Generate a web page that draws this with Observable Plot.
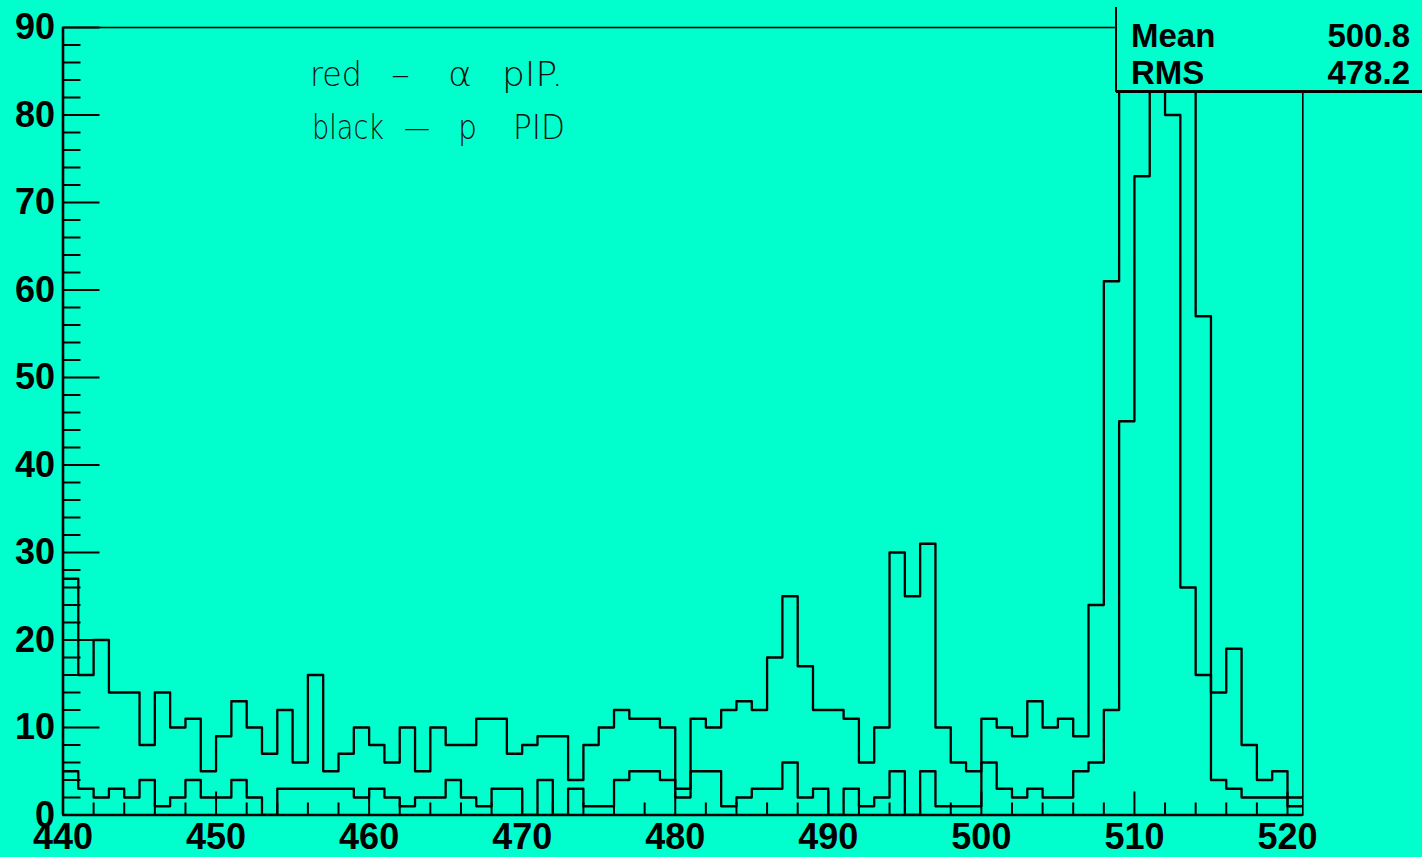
<!DOCTYPE html>
<html><head><meta charset="utf-8">
<script src="https://cdn.jsdelivr.net/npm/d3@7"></script>
<script src="https://cdn.jsdelivr.net/npm/@observablehq/plot@0.6"></script>
<style>
html,body{margin:0;padding:0;background:#00ffcc;overflow:hidden;}
#chart svg{display:block;}
</style></head><body><div id="chart"></div>
<script>
// ---- data ----
const binStarts = [
  440,441,442,443,444,445,446,447,448,449,
  450,451,452,453,454,455,456,457,458,459,
  460,461,462,463,464,465,466,467,468,469,
  470,471,472,473,474,475,476,477,478,479,
  480,481,482,483,484,485,486,487,488,489,
  490,491,492,493,494,495,496,497,498,499,
  500,501,502,503,504,505,506,507,508,509,
  510,511,512,513,514,515,516,517,518,519,
  520];
const binWidth = 1;
// upper histogram (higher background)
const histA = [
  27,16,20,14,14,8,14,10,11,5,
  9,13,10,7,12,6,16,5,7,10,
  8,6,10,5,10,8,8,11,11,7,
  8,9,9,4,8,10,12,11,11,10,
  3,11,10,12,13,12,18,25,17,12,
  12,11,6,10,30,25,31,10,6,5,
  11,10,9,13,10,11,9,24,61,98,
  115,100,80,26,16,4,3,2,2,2,
  2];
// lower histogram (low background, later peak)
const histB = [
  5,3,2,3,2,4,1,2,4,2,
  2,4,2,0,3,3,3,3,3,2,
  3,2,1,2,2,4,2,1,3,3,
  0,4,0,3,1,1,4,5,5,4,
  2,5,5,1,2,3,3,6,2,3,
  0,3,1,2,5,0,5,1,1,1,
  6,3,2,3,2,2,5,6,12,45,
  73,105,120,95,57,14,19,8,4,5,
  1];
const xTickLabels = [440,450,460,470,480,490,500,510,520];
const xMinorTicks = [442,444,446,448,452,454,456,458,462,464,466,468,472,474,476,478,482,484,486,488,492,494,496,498,502,504,506,508,512,514,516,518];
const yTickLabels = [0,10,20,30,40,50,60,70,80,90];
const yMinorTicks = [2,4,6,8,12,14,16,18,22,24,26,28,32,34,36,38,42,44,46,48,52,54,56,58,62,64,66,68,72,74,76,78,82,84,86,88];
const xDomain = [440, 521];
const yDomain = [0, 90];
const statLabels = ["Mean", "RMS"];
const statValues = ["500.8", "478.2"];
const noteLine1 = ["red", "–", "α", "pIP."];
const noteLine2 = ["black", "—", "p", "PID"];

// ---- build step tables ----
function steps(counts) {
  const pts = binStarts.map((b, i) => ({x: b, y: counts[i]}));
  pts.push({x: binStarts[binStarts.length - 1] + binWidth, y: counts[counts.length - 1]});
  return pts;
}

const BG = "#00ffcc";
const W = 1422, H = 857;
const mL = 62.5, mR = 119.7, mT = 27, mB = 42.5;
const innerW = W - mL - mR, innerH = H - mT - mB;

const plot = Plot.plot({
  width: W, height: H,
  marginLeft: mL, marginRight: mR, marginTop: mT, marginBottom: mB,
  x: {domain: xDomain},
  y: {domain: yDomain},
  style: {background: "transparent", fontFamily: "'Liberation Sans', Arial, Helvetica, sans-serif", fontWeight: "bold", color: "black", overflow: "visible"},
  marks: [
    Plot.lineY(steps(histA), {x: "x", y: "y", curve: "step-after", stroke: "black", strokeWidth: 2.3, clip: true}),
    Plot.lineY(steps(histB), {x: "x", y: "y", curve: "step-after", stroke: "black", strokeWidth: 2.3, clip: true}),
    Plot.frame({stroke: "black", strokeWidth: 1.6}),
    Plot.ruleX([xDomain[0]], {stroke: "black", strokeWidth: 2.6}),
    Plot.ruleY([yDomain[0]], {stroke: "black", strokeWidth: 2.6}),
    Plot.ruleX(xMinorTicks, {stroke: "black", strokeWidth: 2, insetTop: innerH - 12}),
    Plot.ruleX(xTickLabels, {stroke: "black", strokeWidth: 2, insetTop: innerH - 23}),
    Plot.ruleY(yMinorTicks, {stroke: "black", strokeWidth: 2, insetRight: innerW - 18}),
    Plot.ruleY(yTickLabels, {stroke: "black", strokeWidth: 2, insetRight: innerW - 37}),
    Plot.axisX(xTickLabels, {tickSize: 0, tickPadding: 8, fontSize: 36, tickFormat: d => String(d), label: null}),
    Plot.axisY(yTickLabels, {tickSize: 0, tickPadding: 8, fontSize: 36, tickFormat: d => String(d), label: null})
  ]
});
document.getElementById("chart").appendChild(plot);

// ---- stats box ----
const svg = d3.select(plot);
const box = svg.append("g");
box.append("rect").attr("x", 1116).attr("y", -5).attr("width", 320).attr("height", 97)
  .attr("fill", BG).attr("stroke", "none");
box.append("line").attr("x1", 1116).attr("x2", 1116).attr("y1", 7).attr("y2", 92)
  .attr("stroke", "black").attr("stroke-width", 2);
box.append("line").attr("x1", 1116).attr("x2", 1422).attr("y1", 91.5).attr("y2", 91.5)
  .attr("stroke", "black").attr("stroke-width", 3.2);
const statY = [46.5, 83.5];
statLabels.forEach((s, i) => {
  box.append("text").attr("x", 1131).attr("y", statY[i]).text(s)
    .attr("text-anchor", "start")
    .attr("font-size", 33).attr("font-weight", "bold").attr("fill", "black")
    .attr("font-family", "'Liberation Sans', Arial, sans-serif");
  box.append("text").attr("x", 1410).attr("y", statY[i]).attr("text-anchor", "end").text(statValues[i])
    .attr("font-size", 33).attr("font-weight", "bold").attr("fill", "black")
    .attr("font-family", "'Liberation Sans', Arial, sans-serif");
});

// ---- handwritten note ----
const note = svg.append("g").attr("font-family", "'DejaVu Sans', sans-serif")
  .attr("font-weight", 200).attr("fill", "#111").attr("font-size", 34)
  .attr("text-anchor", "start");
const line1X = [[310, 52], [391, 19], [448, 24], [502, 61]];
const line2X = [[312, 72], [404, 26], [458, 19], [513, 52]];
noteLine1.forEach((t, i) => {
  note.append("text").attr("x", line1X[i][0]).attr("y", 86).text(t)
    .attr("text-anchor", "start")
    .attr("textLength", line1X[i][1]).attr("lengthAdjust", "spacingAndGlyphs");
});
noteLine2.forEach((t, i) => {
  note.append("text").attr("x", line2X[i][0]).attr("y", 139).text(t)
    .attr("text-anchor", "start")
    .attr("textLength", line2X[i][1]).attr("lengthAdjust", "spacingAndGlyphs");
});
</script>
</body></html>
